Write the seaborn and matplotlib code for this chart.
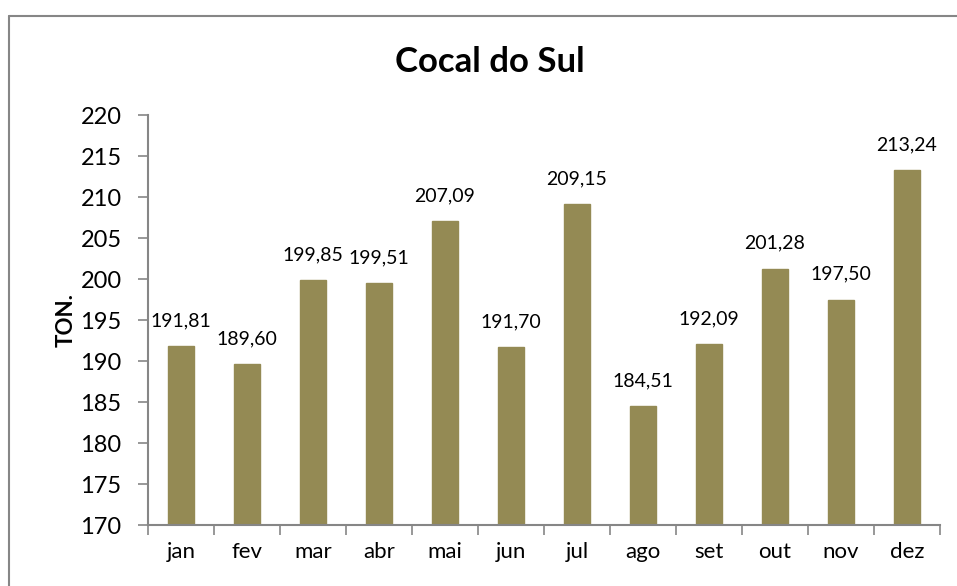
import matplotlib
matplotlib.use("Agg")
import matplotlib.pyplot as plt
import seaborn as sns
import pandas as pd
from matplotlib.lines import Line2D

months = ["jan", "fev", "mar", "abr", "mai", "jun", "jul", "ago", "set", "out", "nov", "dez"]
values = [191.81, 189.60, 199.85, 199.51, 207.09, 191.70, 209.15, 184.51, 192.09, 201.28, 197.50, 213.24]
title = "Cocal do Sul"
ylabel = "TON."

sns.set_theme(style="white")
plt.rcParams['font.family'] = ['Lato', 'DejaVu Sans']
plt.rcParams['text.color'] = 'black'
plt.rcParams['axes.labelcolor'] = 'black'
plt.rcParams['xtick.color'] = 'black'
plt.rcParams['ytick.color'] = 'black'

df = pd.DataFrame({"mes": months, "valor": values})

fig = plt.figure(figsize=(9.57, 5.86), dpi=100)
ax = fig.add_axes([148/957, 1-525/586, (940-148)/957, (525-115)/586])

sns.barplot(data=df, x="mes", y="valor", color="#948A54", width=0.4, ax=ax,
            saturation=1, edgecolor="#948A54")

ax.set_ylim(170, 220)
ax.set_yticks(range(170, 221, 5))
ax.set_xlim(-0.5, len(months)-0.5)
ax.set_xlabel("")
ax.set_ylabel(ylabel, fontsize=16, fontweight="bold", labelpad=3, color="black")
ax.tick_params(axis="y", labelsize=17, length=7, width=1.2, color="#868686", direction="out", left=True, pad=12, labelcolor="black")
ax.tick_params(axis="x", labelsize=16, length=0, pad=12, labelcolor="black")

# category boundary ticks on x axis
ax.set_xticks([i - 0.5 for i in range(len(months)+1)], minor=True)
ax.tick_params(axis="x", which="minor", length=7, width=1.2, color="#868686", direction="out", bottom=True)

for s in ["top", "right"]:
    ax.spines[s].set_visible(False)
for s in ["left", "bottom"]:
    ax.spines[s].set_color("#868686")
    ax.spines[s].set_linewidth(1.5)

for i, v in enumerate(values):
    ax.annotate(f"{v:.2f}".replace(".", ","), (i, v), xytext=(0, 12), textcoords="offset points",
                ha="center", va="bottom", fontsize=14, color="black")

fig.text(490/957, 1-62/586, title, ha="center", va="center", fontsize=25, fontweight="bold", color="black")

# outer chart frame
fig.add_artist(Line2D([9/957, 9/957], [0, 1-16/586], transform=fig.transFigure, color="#868686", lw=1.5))
fig.add_artist(Line2D([9/957, 1], [1-16/586, 1-16/586], transform=fig.transFigure, color="#868686", lw=1.5))

fig.savefig("out.png", dpi=100)
